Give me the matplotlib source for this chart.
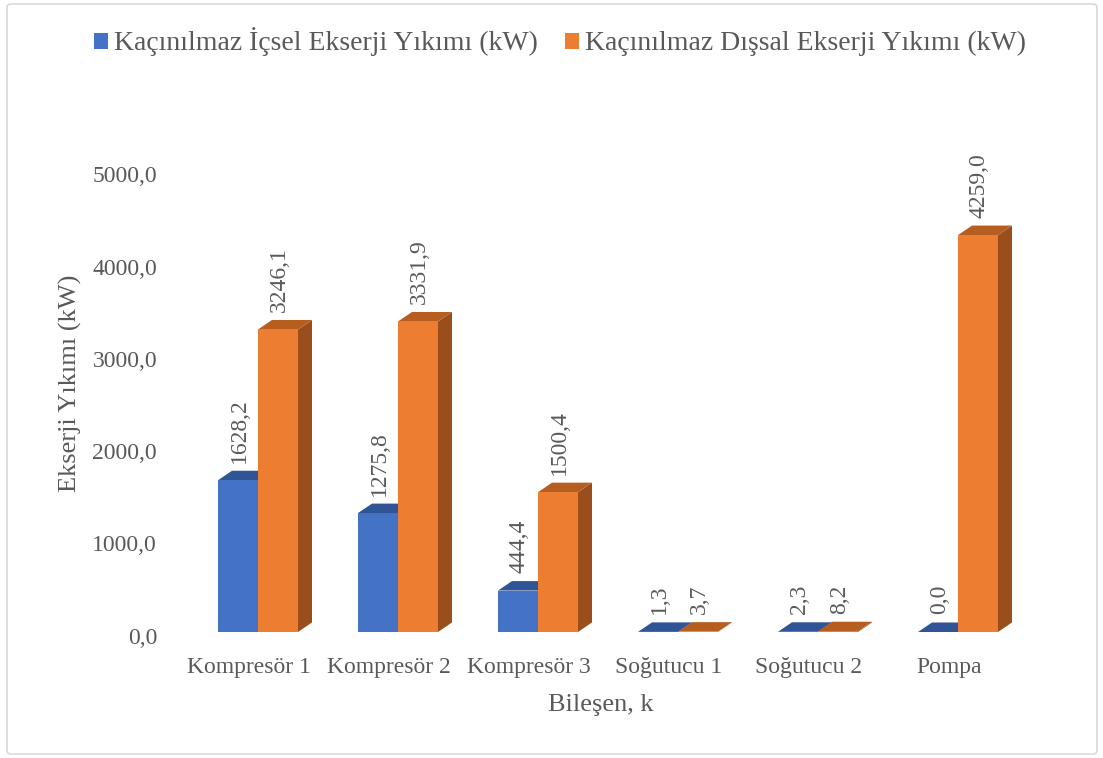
import numpy as np
import matplotlib.pyplot as plt
from matplotlib.patches import Polygon, Patch, FancyBboxPatch
from matplotlib.transforms import ScaledTranslation, blended_transform_factory

plt.rcParams['font.family'] = ['Liberation Serif', 'DejaVu Serif']

# data
categories = ['Kompresör 1', 'Kompresör 2', 'Kompresör 3', 'Soğutucu 1', 'Soğutucu 2', 'Pompa']
internal = [1628.2, 1275.8, 444.4, 1.3, 2.3, 0.0]
external = [3246.1, 3331.9, 1500.4, 3.7, 8.2, 4259.0]
series_names = ['Kaçınılmaz İçsel Ekserji Yıkımı (kW)', 'Kaçınılmaz Dışsal Ekserji Yıkımı (kW)']
yticks = [0, 1000, 2000, 3000, 4000, 5000]

front = ['#4472C4', '#ED7D31']
top = ['#2F5597', '#B65D20']
side = ['#29498A', '#9A4E1C']
txt = '#595959'

fig = plt.figure(figsize=(11.03, 7.58), dpi=100)
W, H = 1103, 758
ax = fig.add_axes([188 / W, 1 - 632 / H, 840 / W, 466 / H])
ax.set_xlim(-0.5, len(categories) - 0.5)
ax.set_ylim(0, 5000)
ax.axis('off')

# 3d look: depth offsets in data units (about 14 px right, 9.5 px up)
dx = 14 / 140
dy = 9.5 * 5000 / 466
bw = 40 / 140


def bar3d(x0, h, i):
    x1 = x0 + bw
    ax.add_patch(Polygon([(x1, 0), (x1 + dx, dy), (x1 + dx, h + dy), (x1, h)],
                         closed=True, fc=side[i], ec='none', clip_on=False))
    ax.add_patch(Polygon([(x0, h), (x0 + dx, h + dy), (x1 + dx, h + dy), (x1, h)],
                         closed=True, fc=top[i], ec='none', clip_on=False))
    ax.add_patch(Polygon([(x0, 0), (x0, h), (x1, h), (x1, 0)],
                         closed=True, fc=front[i], ec='none', clip_on=False))
    lab = f'{h:.1f}'.replace('.', ',')
    ax.text(x0 + bw / 2 + 0.01, h + dy + 8 * 5000 / 466, lab, rotation=90,
            ha='center', va='bottom', fontsize=17, color=txt)


for k in range(len(categories)):
    bar3d(k - bw, internal[k], 0)
    bar3d(k, external[k], 1)

# y tick labels (sit on the back wall, a bit lower than the front face)
ytr = blended_transform_factory(ax.transAxes, ax.transData)
for v in yticks:
    off = ScaledTranslation(0, -(6 + 5 * v / 5000) / 100, fig.dpi_scale_trans)
    ax.text(-31 / 840, v, f'{v:.1f}'.replace('.', ','), ha='right', va='center',
            fontsize=17, color=txt, transform=ytr + off)

# x tick labels
xtr = blended_transform_factory(ax.transData, ax.transAxes)
for k, c in enumerate(categories):
    off = ScaledTranslation(-9 / 100, -35 / 100, fig.dpi_scale_trans)
    ax.text(k, 0, c, ha='center', va='center', fontsize=17, color=txt,
            transform=xtr + off)

fig.text(601 / W, 1 - 705 / H, 'Bileşen, k', ha='center', va='center', fontsize=19, color=txt)
fig.text(70 / W, 1 - 383 / H, 'Ekserji Yıkımı (kW)', ha='center', va='center',
         rotation=90, fontsize=19, color=txt)

handles = [Patch(fc=front[0], ec='none'), Patch(fc=front[1], ec='none')]
fig.legend(handles, series_names, loc='center', bbox_to_anchor=(560 / W, 1 - 42 / H),
           ncol=2, frameon=False, fontsize=20, handlelength=0.5, handleheight=0.5,
           handletextpad=0.2, columnspacing=1.0, labelcolor=txt)

# chart border
fig.patches.append(FancyBboxPatch((7 / W, 4 / H), 1090 / W, 750 / H,
                                  boxstyle='round,pad=0,rounding_size=0.004',
                                  transform=fig.transFigure, fc='none', ec='#D9D9D9', lw=1.2))

fig.savefig('out.png', dpi=100)
